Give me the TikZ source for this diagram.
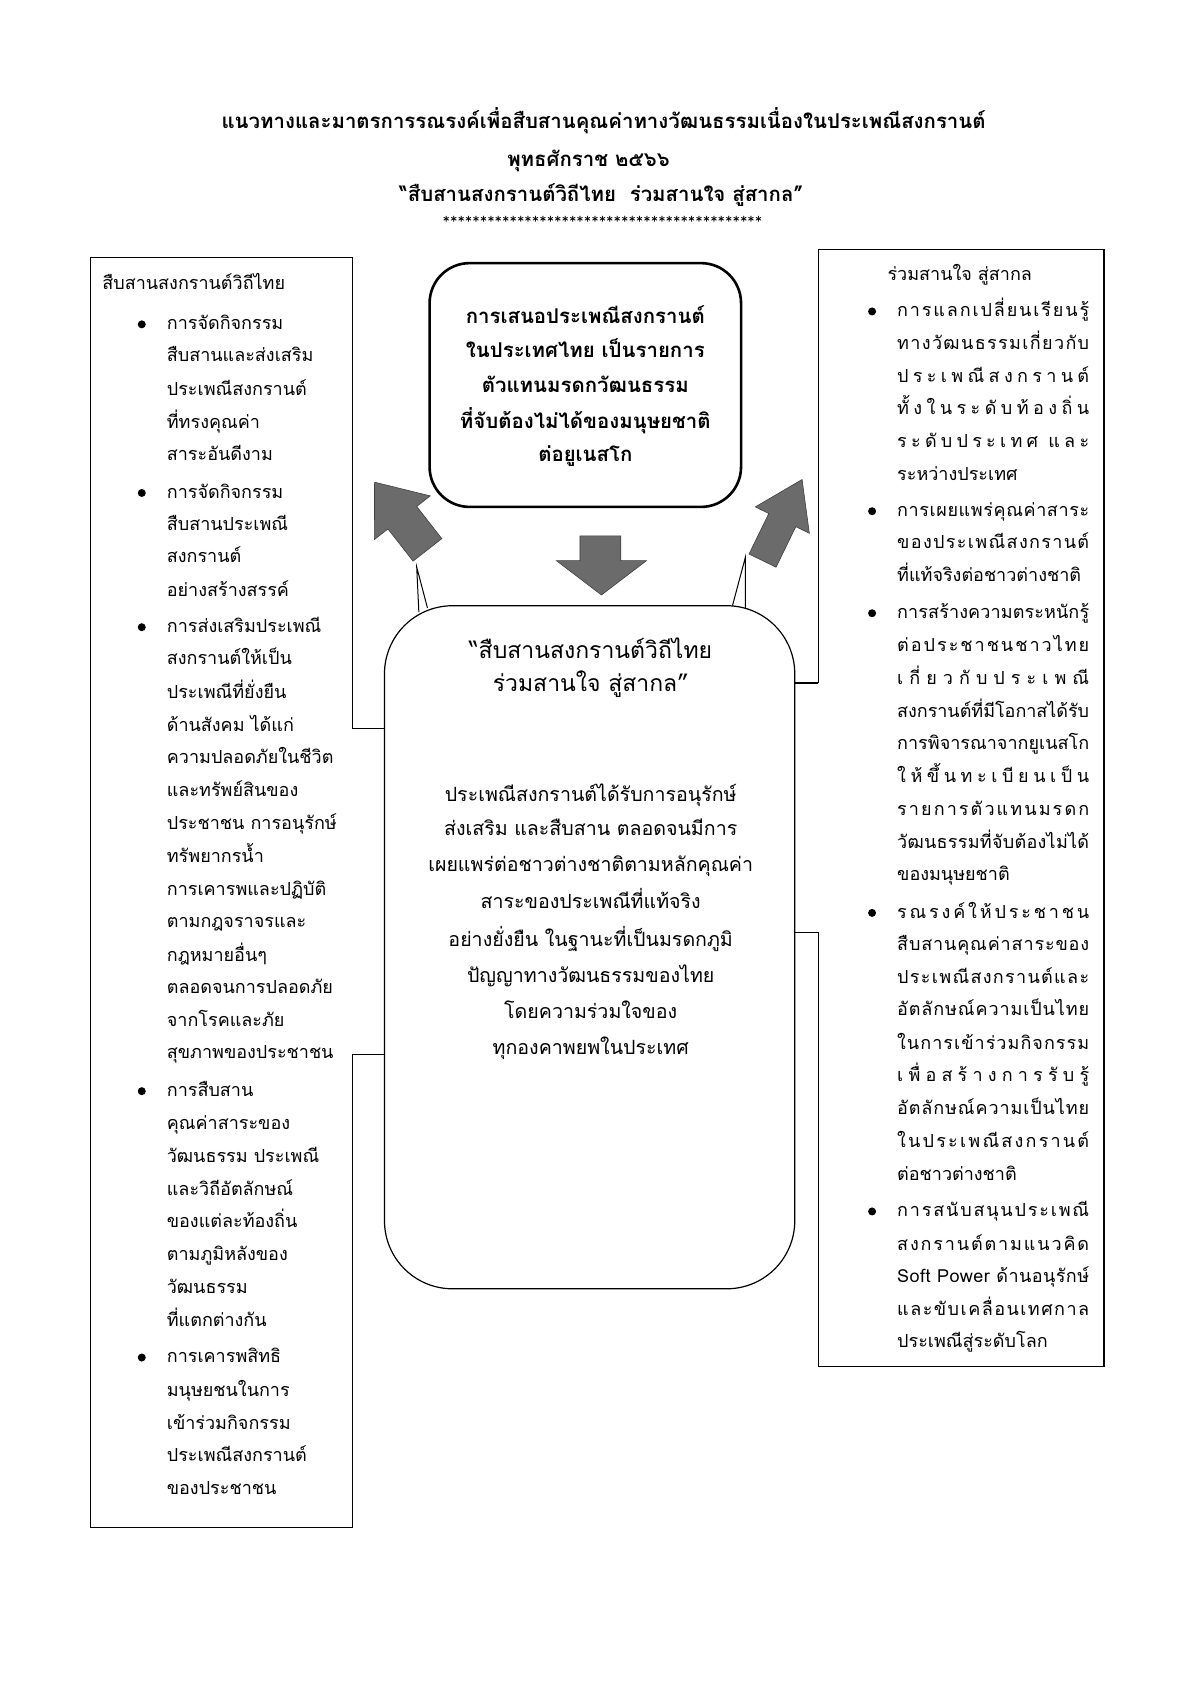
\documentclass[tikz,border=0pt]{standalone}
\usepackage{fontspec}
\newfontfamily\thai[Script=Thai]{Loma}
\newlength\dwA \newlength\dwB
\newcommand\distline[2]{%
  \setbox0\hbox{#2}\dwA=\wd0
  \setbox2\hbox{\addfontfeature{LetterSpace=10}#2}\dwB=\wd2
  \pgfmathsetmacro\lsval{10*(#1-\dwA)/(\dwB-\dwA)}%
  \hbox{\addfontfeature{LetterSpace=\lsval}#2}}
\tikzset{
  boxline/.style={draw=black, line width=0.6pt},
  ltxt/.style={anchor=base west, inner sep=0pt, font=\thai\fontsize{9}{11}\selectfont},
  ctxt/.style={anchor=base, inner sep=0pt, font=\thai\fontsize{9.8}{12}\selectfont},
  chd/.style={anchor=base, inner sep=0pt, font=\thai\fontsize{11.5}{13}\selectfont},
  ttl/.style={anchor=base, inner sep=0pt, font=\thai\bfseries\fontsize{10.2}{12}\selectfont},
  topt/.style={anchor=base, inner sep=0pt, font=\thai\bfseries\fontsize{10.2}{12}\selectfont},
  bul/.style={circle, fill=black, inner sep=0pt, minimum size=4pt},
  blockarrow/.style={fill=black!58, draw=black!75, line width=0.3pt}
}
\begin{document}
\begin{tikzpicture}[x=0.537pt,y=-0.537pt]
\useasboundingbox (0,0) rectangle (1108,1568);
\fill[white] (0,0) rectangle (1108,1568);

% title
\node[ttl] (t1) at (562,120) {แนวทางและมาตรการรณรงค์เพื่อสืบสานคุณค่าทางวัฒนธรรมเนื่องในประเพณีสงกรานต์};
\node[ttl] (t2) at (548,155) {พุทธศักราช ๒๕๖๖};
\node[ttl] (t3) at (560,188) {“สืบสานสงกรานต์วิถีไทย\ \ ร่วมสานใจ สู่สากล”};
\node[anchor=center, inner sep=0pt, font=\ttfamily\fontsize{7}{7}\selectfont] (t4) at (561,205) {*******************************************};

% left box
\draw[boxline] (328,678) -- (328,240) -- (84,240) -- (84,1422) -- (328,1422) -- (328,982);
\node[ltxt] (lh) at (95,270) {สืบสานสงกรานต์วิถีไทย};
\foreach \y in {302,459,584,1016,1264} \node[bul] (lb\y) at (132,\y) {};
\foreach \y/\t in {302/การจัดกิจกรรม, 332/สืบสานและส่งเสริม, 363/ประเพณีสงกรานต์, 394/ที่ทรงคุณค่า, 424/สาระอันดีงาม,
  459/การจัดกิจกรรม, 489/สืบสานประเพณี, 519/สงกรานต์, 550/อย่างสร้างสรรค์,
  584/การส่งเสริมประเพณี, 614/สงกรานต์ให้เป็น, 645/ประเพณีที่ยั่งยืน, 676/ด้านสังคม ได้แก่, 706/ความปลอดภัยในชีวิต,
  737/และทรัพย์สินของ, 767/ประชาชน การอนุรักษ์, 798/ทรัพยากรน้ำ, 829/การเคารพและปฏิบัติ, 859/ตามกฎจราจรและ,
  890/กฎหมายอื่นๆ, 920/ตลอดจนการปลอดภัย, 951/จากโรคและภัย, 981/สุขภาพของประชาชน,
  1016/การสืบสาน, 1047/คุณค่าสาระของ, 1077/วัฒนธรรม ประเพณี, 1108/และวิถีอัตลักษณ์, 1138/ของแต่ละท้องถิ่น,
  1169/ตามภูมิหลังของ, 1199/วัฒนธรรม, 1230/ที่แตกต่างกัน,
  1264/การเคารพสิทธิ, 1295/มนุษยชนในการ, 1326/เข้าร่วมกิจกรรม, 1356/ประเพณีสงกรานต์, 1387/ของประชาชน}
  \node[ltxt] (l\y) at (155,\y+5) {\t};

% right box
\draw[boxline] (762,636) -- (762,232) -- (1028,232) -- (1028,1272) -- (762,1272) -- (762,868);
\node[ltxt] (rh) at (826,261) {ร่วมสานใจ สู่สากล};
\foreach \y in {290,476,571,850,1128} \node[bul] (rb\y) at (812,\y) {};
% distributed lines
\foreach \y/\t in {290/การแลกเปลี่ยนเรียนรู้, 320/ทางวัฒนธรรมเกี่ยวกับ, 351/ประเพณีสงกรานต์, 381/ทั้งในระดับท้องถิ่น,
  412/ระดับประเทศ และ,
  476/การเผยแพร่คุณค่าสาระ, 506/ของประเพณีสงกรานต์,
  571/การสร้างความตระหนักรู้, 602/ต่อประชาชนชาวไทย, 632/เกี่ยวกับประเพณี, 663/สงกรานต์ที่มีโอกาสได้รับ,
  693/การพิจารณาจากยูเนสโก, 724/ให้ขึ้นทะเบียนเป็น, 754/รายการตัวแทนมรดก, 785/วัฒนธรรมที่จับต้องไม่ได้,
  850/รณรงค์ให้ประชาชน, 880/สืบสานคุณค่าสาระของ, 911/ประเพณีสงกรานต์และ, 941/อัตลักษณ์ความเป็นไทย,
  972/ในการเข้าร่วมกิจกรรม, 1002/เพื่อสร้างการรับรู้, 1033/อัตลักษณ์ความเป็นไทย, 1063/ในประเพณีสงกรานต์,
  1128/การสนับสนุนประเพณี, 1159/สงกรานต์ตามแนวคิด, 1189/Soft Power ด้านอนุรักษ์, 1220/และขับเคลื่อนเทศกาล}
  \node[ltxt] (r\y) at (835,\y+5) {\distline{96pt}{\t}};
% last lines (natural width)
\foreach \y/\t in {442/ระหว่างประเทศ, 536/ที่แท้จริงต่อชาวต่างชาติ, 815/ของมนุษยชาติ, 1094/ต่อชาวต่างชาติ, 1250/ประเพณีสู่ระดับโลก}
  \node[ltxt] (r\y) at (835,\y+5) {\t};

% top box
\draw[line width=1.3pt, rounded corners=20pt] (400,245) rectangle (690,472);
\foreach \y/\t in {295/การเสนอประเพณีสงกรานต์, 327/ในประเทศไทย เป็นรายการ, 359/ตัวแทนมรดกวัฒนธรรม, 393/ที่จับต้องไม่ได้ของมนุษยชาติ, 424/ต่อยูเนสโก}
  \node[topt] (tb\y) at (545,\y+6) {\t};

% central box
\draw[boxline, rounded corners=34pt] (358,564) rectangle (740,1200);
\node[chd] (ch1) at (550,613) {“สืบสานสงกรานต์วิถีไทย};
\node[chd] (ch2) at (550,644) {ร่วมสานใจ สู่สากล”};
\foreach \y/\t in {740/ประเพณีสงกรานต์ได้รับการอนุรักษ์, 772/ส่งเสริม และสืบสาน ตลอดจนมีการ, 805/เผยแพร่ต่อชาวต่างชาติตามหลักคุณค่า,
  840/สาระของประเพณีที่แท้จริง, 875/อย่างยั่งยืน ในฐานะที่เป็นมรดกภูมิ, 909/ปัญญาทางวัฒนธรรมของไทย, 942/โดยความร่วมใจของ, 976/ทุกองคาพยพในประเทศ}
  \node[ctxt] (cb\y) at (550,\y+6) {\t};

% callout pointers
\draw[line width=0.5pt] (390,570) -- (388,528) -- (398,566);
\draw[line width=0.5pt] (694,566) -- (694,519) -- (682,564);

% connectors
\draw[boxline] (328,678) -- (358,678);
\draw[boxline] (328,982) -- (358,982);
\draw[boxline] (740,636) -- (762,636);
\draw[boxline] (740,868) -- (762,868);

% block arrows
\fill[blockarrow] (540,499) -- (578,499) -- (578,522) -- (602,522) -- (560,554) -- (518,522) -- (540,522) -- cycle;
\begin{scope}[shift={(398,512)}, rotate=128]
  \fill[blockarrow] (0,-17) -- (38,-17) -- (38,-33) -- (80,0) -- (38,33) -- (38,17) -- (0,17) -- cycle;
\end{scope}
\begin{scope}[shift={(710,522)}, rotate=64]
  \fill[blockarrow] (0,-14) -- (42,-14) -- (42,-28) -- (84,0) -- (42,28) -- (42,14) -- (0,14) -- cycle;
\end{scope}
\end{tikzpicture}
\end{document}
